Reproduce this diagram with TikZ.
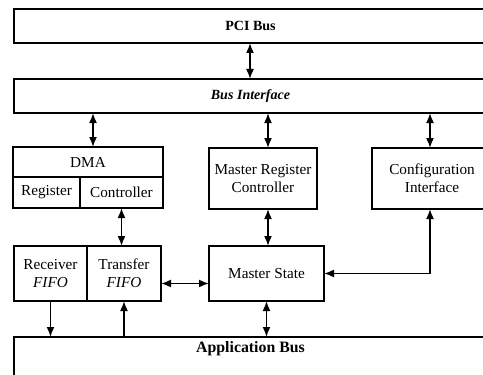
\documentclass[tikz,border=0pt]{standalone}
\usepackage{fontspec}
\setmainfont{Liberation Serif}
\usetikzlibrary{arrows.meta}
\tikzset{
  blk/.style={draw, line width=1.4pt, inner sep=0pt, outer sep=0pt, align=center, font=\fontsize{13}{15.5}\selectfont},
  bus/.style={draw, line width=1.4pt, inner sep=0pt, outer sep=0pt, font=\fontsize{12}{13}\selectfont\bfseries},
  link/.style={{Latex[length=3mm,width=2.4mm]}-{Latex[length=3mm,width=2.4mm]}, line width=1.4pt},
  feed/.style={-{Latex[length=3mm,width=2.4mm]}, line width=1.4pt}
}

\begin{document}
\begin{tikzpicture}[x=1cm,y=1cm]
\path[use as bounding box] (0,0) rectangle (14.49,11.22);
\clip (0,0) rectangle (14.49,11.22);
% buses
\node[bus, minimum width=14.19cm, minimum height=1.02cm] (pci) at (7.515,10.44) {PCI Bus};
\node[bus, minimum width=14.19cm, minimum height=1.02cm] (busif) at (7.515,8.34) {\itshape Bus Interface};
\node[bus, anchor=north, minimum width=14.19cm, text height=9pt, text depth=40pt, inner ysep=4pt,
      font=\fontsize{13.5}{15}\selectfont\bfseries] (app) at (7.515,1.11) {Application Bus};
% DMA block
\node[blk, minimum width=4.5cm, minimum height=0.9cm] (dma) at (2.64,6.36) {DMA};
\node[blk, anchor=north west, minimum width=2.01cm, minimum height=0.93cm] (dmareg) at (dma.south west) {Register};
\node[blk, anchor=north west, minimum width=2.49cm, minimum height=0.93cm] (dmactl) at (dmareg.north east) {Controller};
% middle row
\node[blk, minimum width=3.24cm, minimum height=1.83cm] (mrc) at (7.89,5.865) {Master Register\\Controller};
\node[blk, minimum width=3.6cm, minimum height=1.83cm] (config) at (12.96,5.865) {Configuration\\Interface};
% bottom row
\node[blk, minimum width=2.19cm, minimum height=1.65cm] (rcv) at (1.515,3.015) {Receiver\\\textit{FIFO}};
\node[blk, minimum width=2.22cm, minimum height=1.65cm] (xfer) at (3.72,3.015) {Transfer\\\textit{FIFO}};
\node[blk, minimum width=3.45cm, minimum height=1.65cm] (ms) at (7.995,3.015) {Master State};
% connections
\draw[link] ([xshift=-0.015cm]pci.south) -- ([xshift=-0.015cm]busif.north);
\draw[link] ([xshift=0.15cm]dma.north |- busif.south) -- ([xshift=0.15cm]dma.north);
\draw[link] ([xshift=0.15cm]mrc.north |- busif.south) -- ([xshift=0.15cm]mrc.north);
\draw[link] ([xshift=-0.06cm]config.north |- busif.south) -- ([xshift=-0.06cm]config.north);
\draw[link] (dmactl.south) -- (dmactl.south |- xfer.north);
\draw[link] ([xshift=0.15cm]mrc.south) -- ([xshift=0.15cm]mrc.south |- ms.north);
\draw[link] ([yshift=-0.3cm]xfer.east) -- ([yshift=-0.3cm]xfer.east -| ms.west);
\draw[link] ([xshift=-0.06cm]config.south) |- (ms.east);
\draw[feed] (rcv.south) -- (rcv.south |- app.north);
\draw[feed] (xfer.south |- app.north) -- (xfer.south);
\draw[link] (ms.south) -- (ms.south |- app.north);
\end{tikzpicture}
\end{document}
